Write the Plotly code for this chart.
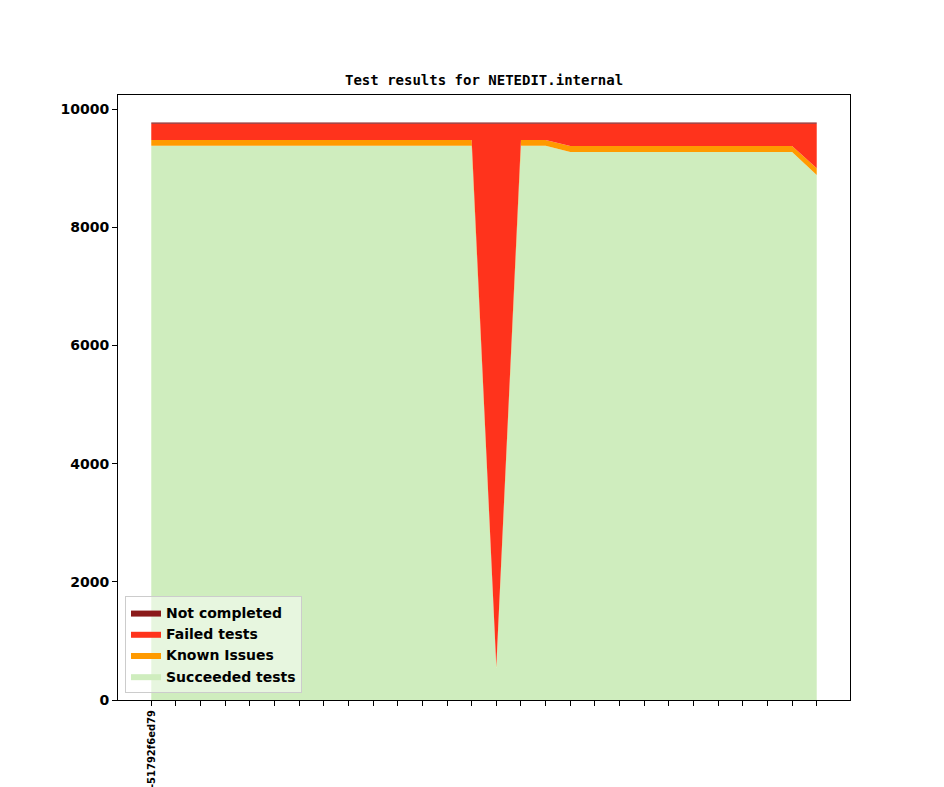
import plotly.graph_objects as go

# x categories (commits); only the first label is shown in the reference
tick_labels = ["-51792f6ed79"] + [""] * 27
x_idx = list(range(len(tick_labels)))

succeeded = [9380] * 14 + [540] + [9380] * 2 + [9275] * 10 + [8885]
known_issues = [100] * 14 + [30] + [100] * 2 + [100] * 10 + [115]
failed = [275] * 14 + [9185] + [275] * 2 + [380] * 10 + [755]
not_completed = [20] * 28

y_ticks = [0, 2000, 4000, 6000, 8000, 10000]
y_tick_text = ["0", "2000", "4000", "6000", "8000", "10000"]

series = [
    ("Succeeded tests", succeeded, "#cfedbe"),
    ("Known Issues", known_issues, "#ff9a00"),
    ("Failed tests", failed, "#ff331c"),
    ("Not completed", not_completed, "#8b1a1a"),
]

fig = go.Figure()
for name, vals, color in series:
    fig.add_trace(go.Scatter(
        x=x_idx, y=vals, name=name, mode="lines",
        stackgroup="one", line=dict(width=0, color=color),
        fillcolor=color, hoverinfo="x+y+name",
    ))

font_bold = "DejaVu Sans"
fig.update_layout(
    width=936, height=779,
    margin=dict(l=110, r=94, t=87, b=87, autoexpand=False),
    paper_bgcolor="white", plot_bgcolor="white",
    showlegend=True,
    legend=dict(
        x=0.0096, y=0.0116, xanchor="left", yanchor="bottom",
        traceorder="reversed",
        bgcolor="rgba(255,255,255,0.5)", bordercolor="#cccccc", borderwidth=1,
        font=dict(family=font_bold, size=14, color="black", weight="bold"),
        tracegroupgap=0,
    ),
    annotations=[dict(
        text="<b>Test results for NETEDIT.internal</b>",
        x=0.5, y=1, xref="paper", yref="paper", xanchor="center", yanchor="bottom",
        yshift=5, showarrow=False,
        font=dict(family="DejaVu Sans Mono", size=14, color="black"),
    )],
)
fig.update_xaxes(
    range=[-1.35, 28.35], tickmode="array", tickvals=x_idx, ticktext=tick_labels,
    tickangle=-90, ticks="outside", ticklen=5, tickcolor="black",
    showline=True, linecolor="black", linewidth=1, mirror=True,
    showgrid=False, zeroline=False, automargin=False,
    tickfont=dict(family=font_bold, size=10, color="black", weight="bold"),
)
fig.update_yaxes(
    range=[0, 10240], tickmode="array", tickvals=y_ticks, ticktext=y_tick_text,
    ticks="outside", ticklen=5, tickcolor="black",
    showline=True, linecolor="black", linewidth=1, mirror=True,
    showgrid=False, zeroline=False, automargin=False,
    tickfont=dict(family=font_bold, size=14, color="black", weight="bold"),
)

fig.write_html("out.html")
